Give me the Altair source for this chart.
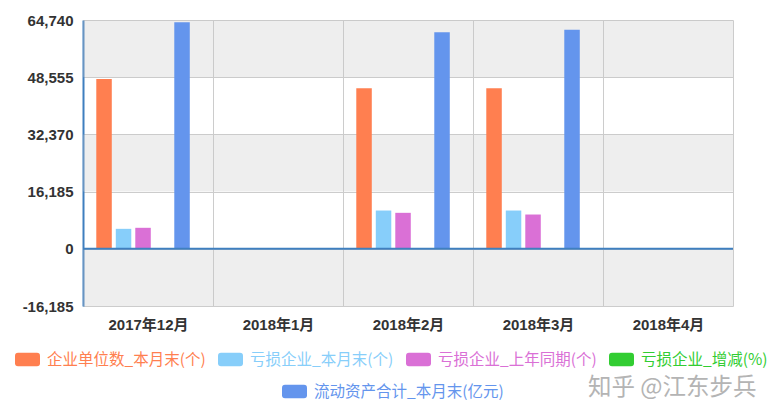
import altair as alt
import pandas as pd

months = ["2017年12月", "2018年1月", "2018年2月", "2018年3月", "2018年4月"]
series = [
    "企业单位数_本月末(个)",
    "亏损企业_本月末(个)",
    "亏损企业_上年同期(个)",
    "亏损企业_增减(%)",
    "流动资产合计_本月末(亿元)",
]
colors = ["#ff7f50", "#87cefa", "#da70d6", "#32cd32", "#6495ed"]

ent_count = [48060, None, 45430, 45430, None]
loss_count = [5650, None, 10830, 10830, None]
loss_prev = [5940, None, 10180, 9700, None]
loss_change = [None, None, None, None, None]
assets = [64090, None, 61260, 62000, None]

y_ticks = [-16185, 0, 16185, 32370, 48555, 64740]
band_lo = [48555, 16185, -16185]
band_hi = [64740, 32370, 0]

rows = []
for s, vals in zip(series, [ent_count, loss_count, loss_prev, loss_change, assets]):
    for m, v in zip(months, vals):
        rows.append({"month": m, "series": s, "value": v})
df = pd.DataFrame(rows)
bands = pd.DataFrame({"lo": band_lo, "hi": band_hi})

W, H = 650, 286

x_enc = alt.X(
    "month:N",
    sort=months,
    scale=alt.Scale(domain=months, paddingInner=0, paddingOuter=0),
    axis=alt.Axis(
        title=None, domain=False, ticks=False, grid=True, tickBand="extent",
        gridColor="#cccccc", gridWidth=1, labelFontSize=15, labelColor="#333333",
        labelFont="Liberation Sans, Noto Sans CJK SC", labelFontWeight="bold",
        labelPadding=11, labelAngle=0,
    ),
)
xo_enc = alt.XOffset(
    "series:N",
    sort=series,
    scale=alt.Scale(domain=series, paddingInner=0.205, paddingOuter=0.936, align=0.364),
)
y_scale = alt.Scale(domain=[-16185, 64740], nice=False, zero=False)
y_axis = alt.Axis(
    title=None, values=y_ticks, format=",d", grid=True, gridColor="#cccccc",
    gridWidth=1, domain=True, domainColor="#3f7fbf", domainWidth=2, ticks=False,
    labelFontSize=15, labelColor="#333333", labelFont="Liberation Sans",
    labelFontWeight="bold", labelPadding=10,
    labelExpr="replace(datum.label, '\u2212', '-')",
)
y_enc = alt.Y("value:Q", scale=y_scale, axis=y_axis)

sym = ("M-0.76,-0.54 L0.76,-0.54 Q1,-0.54 1,-0.3 L1,0.3 Q1,0.54 0.76,0.54 "
       "L-0.76,0.54 Q-1,0.54 -1,0.3 L-1,-0.3 Q-1,-0.54 -0.76,-0.54 Z")

label_expr = "".join(
    f"datum.value === '{s}' ? '{c}' : " for s, c in zip(series, colors)
) + "'#333333'"


def legend(lx, ly):
    return alt.Legend(
        title=None, orient="none", legendX=lx, legendY=ly, direction="horizontal",
        symbolType=sym, symbolSize=625, symbolStrokeWidth=0, symbolOpacity=1,
        labelFontSize=15.5, labelFont="Noto Sans CJK SC", labelLimit=400,
        labelColor=alt.ExprRef(label_expr), labelOffset=7, columnPadding=12,
        padding=0, offset=0,
    )


bg = alt.Chart(bands).mark_rect(color="rgb(200,200,200)", opacity=0.3).encode(
    y=alt.Y("lo:Q", scale=y_scale, axis=y_axis),
    y2="hi:Q",
)

bars1 = alt.Chart(df[df["series"].isin(series[:4])]).mark_bar().encode(
    x=x_enc,
    xOffset=xo_enc,
    y=y_enc,
    color=alt.Color(
        "series:N",
        scale=alt.Scale(domain=series[:4], range=colors[:4]),
        legend=legend(-68, 327),
    ),
)

bars2 = alt.Chart(df[df["series"] == series[4]]).mark_bar().encode(
    x=x_enc,
    xOffset=xo_enc,
    y=y_enc,
    color=alt.Color(
        "series:N",
        scale=alt.Scale(domain=series[4:], range=colors[4:]),
        legend=legend(199, 359),
    ),
)

zero_rule = alt.Chart(pd.DataFrame({"v": [0]})).mark_rule(
    color="#3f7fbf", strokeWidth=2
).encode(y=alt.Y("v:Q", scale=y_scale, axis=y_axis))

watermark = alt.Chart(pd.DataFrame({"t": ["知乎 @江东步兵"]})).mark_text(
    font="Noto Sans CJK SC", fontSize=23.5, color="#b4b4b4", align="left",
    baseline="middle",
).encode(text="t:N", x=alt.value(505), y=alt.value(368))

chart = alt.layer(bg, bars1, bars2, zero_rule, watermark).resolve_scale(
    color="independent"
).properties(
    width=W, height=H,
    autosize=alt.AutoSizeParams(type="none"),
    padding={"left": 83, "top": 20, "right": 779 - 83 - W, "bottom": 417 - 20 - H},
).configure_view(stroke=None)

chart.save("out.html", embed_options={"renderer": "svg", "actions": False})
